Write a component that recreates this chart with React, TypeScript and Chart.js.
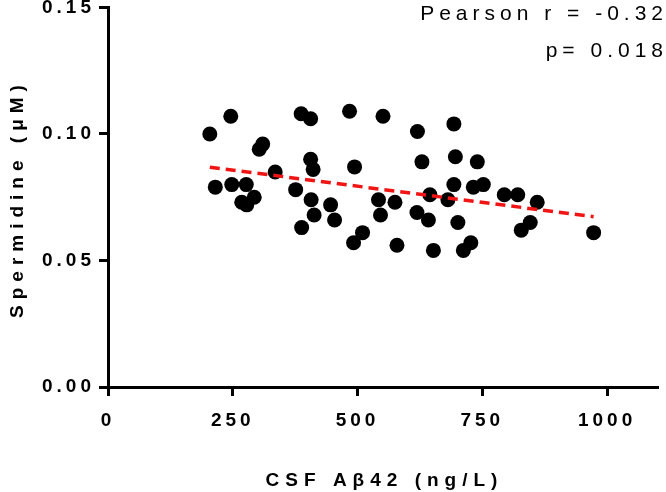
import React, { useEffect, useRef } from "react";
import { Chart, registerables } from "chart.js";

Chart.register(...registerables);

// CSF Aβ42 (ng/L)
const abeta42 = [
  204, 246, 215, 248, 277, 268, 278, 293, 303, 310,
  335, 376, 387, 406, 406, 411, 407, 413, 388, 446,
  454, 484, 494, 510, 492, 551, 542, 546, 575, 579,
  620, 629, 619, 642, 645, 652, 693, 696, 740, 693,
  732, 752, 681, 794, 821, 860, 701, 846, 828, 973,
  727, 712,
];
// Spermidine (µM)
const spermidine = [
  0.100, 0.107, 0.079, 0.080, 0.080, 0.073, 0.072, 0.075, 0.094, 0.096,
  0.085, 0.078, 0.108, 0.106, 0.090, 0.086, 0.074, 0.068, 0.063, 0.072,
  0.066, 0.109, 0.087, 0.061, 0.057, 0.107, 0.074, 0.068, 0.073, 0.056,
  0.101, 0.089, 0.069, 0.066, 0.076, 0.054, 0.104, 0.091, 0.089, 0.080,
  0.079, 0.080, 0.074, 0.076, 0.076, 0.073, 0.065, 0.065, 0.062, 0.061,
  0.057, 0.054,
];
// regression line end points
const trendX = [204, 973];
const trendY = [0.0869, 0.0673];

const xTicks = [0, 250, 500, 750, 1000];
const yTicks = [0, 0.05, 0.1, 0.15];
const xTitle = "CSF Aβ42 (ng/L)";
const yTitle = "Spermidine (μM)";
const statLines = ["Pearson r = -0.32", "p= 0.018"];

const FONT = '"Liberation Sans", Arial, Helvetica, sans-serif';

export default function App() {
  const ref = useRef<HTMLCanvasElement>(null);

  useEffect(() => {
    document.body.style.margin = "0";
    const canvas = ref.current as HTMLCanvasElement;

    const setSpacing = (chart: any) => {
      (chart.ctx as any).letterSpacing = "4px";
    };

    const textPlugin = {
      id: "texts",
      beforeLayout: setSpacing,
      beforeDraw: setSpacing,
      afterDraw(chart: any) {
        const ctx = chart.ctx as any;
        ctx.save();
        ctx.fillStyle = "#000";
        ctx.textBaseline = "alphabetic";

        // x axis title
        ctx.font = `bold 19px ${FONT}`;
        ctx.letterSpacing = "6px";
        ctx.textAlign = "center";
        ctx.fillText(xTitle, 384.5, 486);

        // y axis title
        ctx.save();
        ctx.translate(23, 198.5);
        ctx.rotate(-Math.PI / 2);
        ctx.fillText(yTitle, 0, 0);
        ctx.restore();

        // statistics
        ctx.font = `21px ${FONT}`;
        ctx.letterSpacing = "5px";
        ctx.textAlign = "right";
        ctx.fillText(statLines[0], 668, 19.5);
        ctx.fillText(statLines[1], 668, 57);
        ctx.restore();
      },
    };

    const tickFont = { family: FONT, size: 19, weight: "bold" as const };

    const chart = new Chart(canvas, {
      type: "scatter",
      data: {
        datasets: [
          {
            type: "line",
            data: trendX.map((x, i) => ({ x, y: trendY[i] })),
            borderColor: "#f01414",
            borderWidth: 3.5,
            borderDash: [10, 6],
            pointRadius: 0,
            fill: false,
            showLine: true,
          } as any,
          {
            data: abeta42.map((x, i) => ({ x, y: spermidine[i] })),
            backgroundColor: "#000",
            borderWidth: 0,
            pointRadius: 7.5,
            pointHoverRadius: 7.5,
          },
        ],
      },
      options: {
        animation: false,
        responsive: false,
        devicePixelRatio: 1,
        layout: { padding: { top: 7, left: 0, right: 9, bottom: 0 } },
        plugins: {
          legend: { display: false },
          tooltip: { enabled: false },
        },
        scales: {
          x: {
            type: "linear",
            min: 0,
            max: 1100,
            afterBuildTicks: (s: any) => {
              s.ticks = xTicks.map((value) => ({ value }));
            },
            afterFit: (s: any) => {
              s.height = 105;
              s.paddingLeft = 0;
              s.paddingRight = 0;
              s.paddingTop = 0;
              s.paddingBottom = 0;
            },
            grid: {
              drawOnChartArea: false,
              drawTicks: true,
              tickLength: 9,
              lineWidth: 3,
              color: "#000",
            },
            border: { display: true, color: "#000", width: 3 },
            ticks: {
              color: "#000",
              font: tickFont,
              padding: 13,
              maxRotation: 0,
              autoSkip: false,
              callback: (v: any) => String(v),
            },
          },
          y: {
            type: "linear",
            min: 0,
            max: 0.15,
            afterBuildTicks: (s: any) => {
              s.ticks = yTicks.map((value) => ({ value }));
            },
            afterFit: (s: any) => {
              s.width = 108;
              s.paddingLeft = 0;
              s.paddingRight = 0;
              s.paddingTop = 0;
              s.paddingBottom = 0;
            },
            grid: {
              drawOnChartArea: false,
              drawTicks: true,
              tickLength: 9,
              lineWidth: 3,
              color: "#000",
            },
            border: { display: true, color: "#000", width: 3 },
            ticks: {
              color: "#000",
              font: tickFont,
              padding: 4,
              autoSkip: false,
              callback: (v: any) => Number(v).toFixed(2),
            },
          },
        },
      },
      plugins: [textPlugin],
    });

    return () => chart.destroy();
  }, []);

  return (
    <div style={{ width: 666, height: 492, position: "relative" }}>
      <canvas ref={ref} width={666} height={492} style={{ width: 666, height: 492, display: "block" }} />
    </div>
  );
}
